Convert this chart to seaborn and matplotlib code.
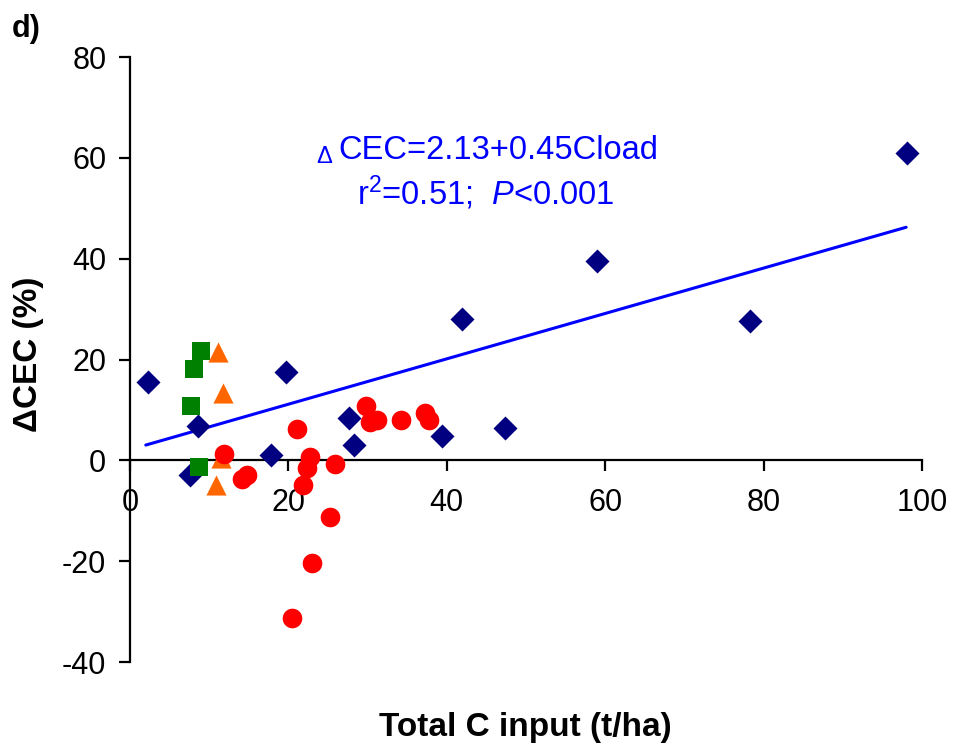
import matplotlib
matplotlib.use('Agg')
import matplotlib.pyplot as plt
import numpy as np
import pandas as pd
import seaborn as sns

# Data
navy_x = [2.3, 8.6, 7.6, 17.8, 19.7, 27.7, 28.3, 39.4, 41.9, 47.3, 59.0, 78.3, 98.1]
navy_y = [15.5, 6.9, -3.0, 1.0, 17.5, 8.3, 3.0, 4.8, 28.0, 6.5, 39.5, 27.6, 60.9]

green_x = [9.0, 8.1, 7.7, 8.7]
green_y = [21.6, 18.1, 10.7, -1.4]

orange_x = [11.1, 11.7, 11.5, 10.9]
orange_y = [21.4, 13.3, 0.4, -4.8]

red_x = [11.9, 14.1, 14.8, 21.1, 22.7, 22.3, 21.8, 25.9, 25.3, 23.0, 20.4,
         29.8, 30.3, 31.2, 34.2, 37.2, 37.8]
red_y = [1.2, -3.8, -2.9, 6.2, 0.7, -1.5, -4.9, -0.8, -11.3, -20.4, -31.3,
         10.7, 7.6, 8.1, 8.1, 9.3, 8.1]

fit_intercept = 2.13
fit_slope = 0.45
fit_range = [2.0, 98.0]

groups = ['navy', 'green', 'orange', 'red']
frames = []
for g, xs, ys in zip(groups, [navy_x, green_x, orange_x, red_x],
                     [navy_y, green_y, orange_y, red_y]):
    frames.append(pd.DataFrame({'x': xs, 'y': ys, 'group': g}))
df = pd.concat(frames, ignore_index=True)

sns.set_style('white')
plt.rcParams['font.family'] = ['Liberation Sans', 'DejaVu Sans']
plt.rcParams['axes.unicode_minus'] = False
plt.rcParams['text.color'] = 'black'
plt.rcParams['mathtext.fontset'] = 'custom'
plt.rcParams['mathtext.rm'] = 'Liberation Sans'
plt.rcParams['mathtext.it'] = 'Liberation Sans:italic'
plt.rcParams['mathtext.bf'] = 'Liberation Sans:bold'

fig = plt.figure(figsize=(9.57, 7.51), dpi=100)
ax = fig.add_axes([0.1358, 0.1185, 0.8276, 0.8056])

fit_x = np.array(fit_range)
fit_y = fit_intercept + fit_slope * fit_x
sns.lineplot(x=fit_x, y=fit_y, ax=ax, color='#0000FF', linewidth=2.2, zorder=2)

palette = {'navy': '#000080', 'green': '#008000', 'orange': '#FF6600', 'red': '#FF0000'}
markers = {'navy': 'D', 'green': 's', 'orange': '^', 'red': 'o'}
sizes = {'navy': 150, 'green': 150, 'orange': 210, 'red': 200}
for g in groups:
    sub = df[df['group'] == g]
    sns.scatterplot(data=sub, x='x', y='y', ax=ax, color=palette[g],
                    marker=markers[g], s=sizes[g], linewidth=0, zorder=3,
                    legend=False)

ax.set_xlim(0, 100)
ax.set_ylim(-40, 80)
ax.set_xticks(np.arange(0, 101, 20))
ax.set_yticks(np.arange(-40, 81, 20))

ax.spines['top'].set_visible(False)
ax.spines['right'].set_visible(False)
ax.spines['bottom'].set_position(('data', 0))
for sp in ['left', 'bottom']:
    ax.spines[sp].set_color('black')
    ax.spines[sp].set_linewidth(1.6)

ax.tick_params(axis='both', direction='out', length=8, width=1.6,
               labelsize=22, colors='black', left=True, bottom=True)
ax.tick_params(axis='y', pad=9)
ax.tick_params(axis='x', pad=12)

ax.set_xlabel('')
ax.set_ylabel('')
fig.text(0.549, 0.031, 'Total C input (t/ha)', ha='center', va='center',
         fontsize=24, fontweight='bold')
fig.text(0.030, 0.528, '\u0394CEC (%)', ha='center', va='center',
         rotation=90, fontsize=24, fontweight='bold')
fig.text(0.012, 0.962, 'd)', ha='left', va='center', fontsize=22,
         fontweight='bold')

ax.text(23.5, 60.2, '\u0394', color='#0000FF', fontsize=17, ha='left',
        va='center')
ax.text(26.3, 61.5, 'CEC=2.13+0.45Cload', color='#0000FF', fontsize=23.5,
        ha='left', va='center')
ax.text(44.9, 53.0, r'r$^2$=0.51;  $P$<0.001', color='#0000FF',
        fontsize=23.5, ha='center', va='center')

fig.savefig('out.png', dpi=100)
